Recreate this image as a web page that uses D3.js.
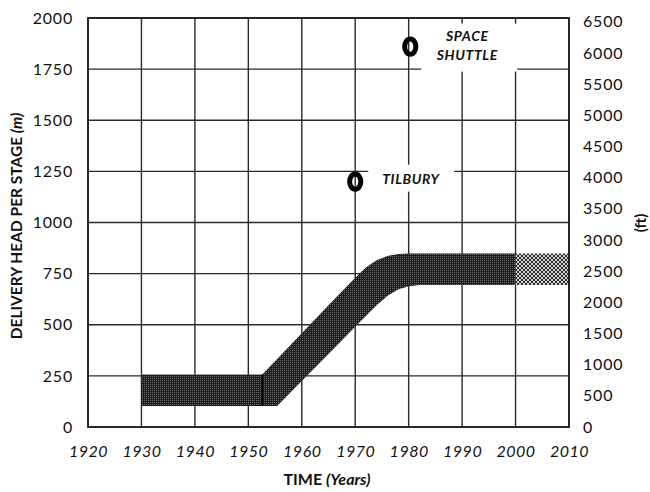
<!DOCTYPE html>
<html><head><meta charset="utf-8">
<script src="https://cdn.jsdelivr.net/npm/d3@7"></script>
<style>body{margin:0;background:#fff}svg{display:block}</style>
</head><body><svg id="c" width="650" height="492"></svg>
<script>
// ---- data ----
const bandYears = [1930, 1952.6, 1955.4, 1960, 1965, 1970, 1972, 1974, 1976, 1978, 1980, 1982, 2000, 2010];
const bandLowM  = [103, 103, 103, 225, 357, 490, 543, 595, 640, 672, 688, 694, 694, 694];
const bandHighM = [257, 257, 333, 458, 595, 730, 780, 815, 836, 846, 848, 848, 848, 848];
const projectedFromYear = 2000;
const stepYear = 1952.6;
const xTicks = [1920, 1930, 1940, 1950, 1960, 1970, 1980, 1990, 2000, 2010];
const yTicksM = [0, 250, 500, 750, 1000, 1250, 1500, 1750, 2000];
const yTicksFt = [0, 500, 1000, 1500, 2000, 2500, 3000, 3500, 4000, 4500, 5000, 5500, 6000, 6500];
const pointNames = ["TILBURY", "SPACE SHUTTLE"];
const pointYears = [1970, 1980.3];
const pointHeadsM = [1200, 1860];
const FT_PER_M = 1 / 0.3048;

// ---- layout ----
const L = 88, R = 569, T = 18, B = 427;
const svg = d3.select("#c");
const x = d3.scaleLinear().domain([1920, 2010]).range([L, R]);
const y = d3.scaleLinear().domain([0, 2000]).range([B, T]);
const yFt = d3.scaleLinear().domain([0, 2000 * FT_PER_M]).range([B, T]);
const FONT = "Lato, 'Open Sans', sans-serif";

svg.append("rect").attr("width", 650).attr("height", 492).attr("fill", "#fff");

// patterns
const defs = svg.append("defs");
const pd = defs.append("pattern").attr("id", "dark").attr("patternUnits", "userSpaceOnUse")
  .attr("width", 2).attr("height", 2);
pd.append("rect").attr("width", 2).attr("height", 2).attr("fill", "#1c1c1c");
pd.append("rect").attr("width", 1).attr("height", 1).attr("fill", "#6e6e6e");
const pl = defs.append("pattern").attr("id", "light").attr("patternUnits", "userSpaceOnUse")
  .attr("width", 4).attr("height", 4);
pl.append("rect").attr("width", 4).attr("height", 4).attr("fill", "#cfcfcf");
[[1,0],[2,0],[0,1],[3,1],[0,2],[3,2],[1,3],[2,3]].forEach(([a,b]) =>
  pl.append("rect").attr("x", a).attr("y", b).attr("width", 1).attr("height", 1).attr("fill", "#303030"));

// grid
const grid = svg.append("g").attr("stroke", "#2a2a2a").attr("stroke-width", 1.4);
xTicks.slice(1, -1).forEach(t => grid.append("line")
  .attr("x1", x(t)).attr("x2", x(t)).attr("y1", T).attr("y2", B));
yTicksM.slice(1, -1).forEach(t => grid.append("line")
  .attr("x1", L).attr("x2", R).attr("y1", y(t)).attr("y2", y(t)));

// white boxes behind labels (break the grid)
const p0 = [x(pointYears[0]), y(pointHeadsM[0])];
const p1 = [x(pointYears[1]), y(pointHeadsM[1])];
svg.append("rect").attr("x", p0[0] + 13).attr("y", p0[1] - 17).attr("width", 86).attr("height", 27).attr("fill", "#fff");
svg.append("rect").attr("x", p1[0] + 11).attr("y", p1[1] - 23).attr("width", 96).attr("height", 48).attr("fill", "#fff");

// band
const data = bandYears.map((yr, i) => ({yr, lo: bandLowM[i], hi: bandHighM[i]}));
const area = d3.area().x(d => x(d.yr)).y0(d => y(d.lo)).y1(d => y(d.hi)).curve(d3.curveLinear);
svg.append("path").datum(data.filter(d => d.yr <= projectedFromYear))
  .attr("d", area).attr("fill", "url(#dark)");
svg.append("path").datum(data.filter(d => d.yr >= projectedFromYear))
  .attr("d", area).attr("fill", "url(#light)");
const si = bandYears.indexOf(stepYear);
svg.append("line").attr("x1", x(stepYear)).attr("x2", x(stepYear))
  .attr("y1", y(bandLowM[si])).attr("y2", y(bandHighM[si]))
  .attr("stroke", "#000").attr("stroke-width", 1.5);

// frame
svg.append("rect").attr("x", L).attr("y", T).attr("width", R - L).attr("height", B - T)
  .attr("fill", "none").attr("stroke", "#111").attr("stroke-width", 1.8);

// markers
pointYears.forEach((yr, i) => {
  svg.append("ellipse").attr("cx", x(yr)).attr("cy", y(pointHeadsM[i]))
    .attr("rx", 5.6).attr("ry", 7.6).attr("fill", "none")
    .attr("stroke", "#000").attr("stroke-width", 5);
});

// point labels
svg.append("text").attr("x", p0[0] + 27).attr("y", p0[1] + 2.5)
  .attr("font-family", FONT).attr("font-size", 14).attr("font-weight", "bold")
  .attr("font-style", "italic").attr("letter-spacing", 0.6).attr("fill", "#111").text(pointNames[0]);
const sl = pointNames[1].split(" ");
sl.forEach((w, k) => svg.append("text").attr("x", p1[0] + 57).attr("y", p1[1] - 5.6 + k * 19)
  .attr("text-anchor", "middle").attr("font-family", FONT).attr("font-size", 14)
  .attr("font-weight", "bold").attr("font-style", "italic").attr("letter-spacing", 0.6)
  .attr("fill", "#111").text(w));

// axes (labels only)
function style(g) {
  g.select(".domain").remove();
  g.selectAll("text").attr("font-family", FONT).attr("font-size", 16).attr("fill", "#111");
}
svg.append("g").attr("transform", `translate(${L},0)`)
  .call(d3.axisLeft(y).tickValues(yTicksM).tickSize(0).tickPadding(15).tickFormat(d3.format("d")))
  .call(style).selectAll("text").attr("letter-spacing", 0.8);
svg.append("g").attr("transform", `translate(${R},0)`)
  .call(d3.axisRight(yFt).tickValues(yTicksFt).tickSize(0).tickPadding(14).tickFormat(d3.format("d")))
  .call(style).selectAll("text").attr("letter-spacing", 0.8);
svg.append("g").attr("transform", `translate(0,${B})`)
  .call(d3.axisBottom(x).tickValues(xTicks).tickSize(0).tickPadding(19).tickFormat(d3.format("d")))
  .call(style).selectAll("text").attr("font-style", "italic").attr("letter-spacing", 0.5);

// axis titles
const yt = svg.append("text").attr("transform", "translate(22,226) rotate(-90)")
  .attr("text-anchor", "middle").attr("font-family", FONT).attr("font-size", 15.5)
  .attr("font-weight", "bold").attr("fill", "#111");
yt.append("tspan").text("DELIVERY HEAD PER STAGE ");
yt.append("tspan").attr("font-style", "italic").text("(m)");
svg.append("text").attr("transform", "translate(646,223) rotate(-90)")
  .attr("text-anchor", "middle").attr("font-family", FONT).attr("font-size", 15)
  .attr("font-weight", "bold").attr("fill", "#111").text("(ft)");
const xt = svg.append("text").attr("x", 327).attr("y", 485)
  .attr("text-anchor", "middle").attr("font-family", FONT).attr("font-size", 16)
  .attr("font-weight", "bold").attr("fill", "#111");
xt.append("tspan").text("TIME ");
xt.append("tspan").attr("font-style", "italic").text("(Years)");
</script></body></html>
